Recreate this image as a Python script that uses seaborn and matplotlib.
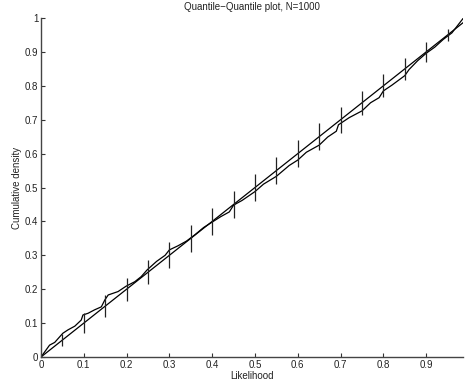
import numpy as np
import pandas as pd
import matplotlib
matplotlib.use("Agg")
import matplotlib.pyplot as plt
import seaborn as sns

# ---- data ----
curve_x = [0.000, 0.012, 0.020, 0.032, 0.051, 0.063, 0.079, 0.094, 0.098, 0.110,
           0.125, 0.141, 0.149, 0.157, 0.180, 0.199, 0.219, 0.234, 0.248, 0.270,
           0.290, 0.300, 0.320, 0.340, 0.360, 0.380, 0.400, 0.420, 0.440, 0.450,
           0.470, 0.500, 0.520, 0.550, 0.580, 0.600, 0.620, 0.650, 0.670, 0.690,
           0.695, 0.720, 0.750, 0.770, 0.790, 0.800, 0.820, 0.850, 0.860, 0.880,
           0.900, 0.920, 0.940, 0.960, 0.987]
curve_y = [0.000, 0.021, 0.035, 0.043, 0.070, 0.080, 0.091, 0.109, 0.124, 0.129,
           0.139, 0.148, 0.168, 0.183, 0.193, 0.209, 0.222, 0.237, 0.257, 0.282,
           0.300, 0.316, 0.328, 0.342, 0.361, 0.382, 0.398, 0.414, 0.428, 0.448,
           0.462, 0.488, 0.510, 0.533, 0.565, 0.581, 0.604, 0.625, 0.649, 0.666,
           0.685, 0.706, 0.726, 0.750, 0.765, 0.785, 0.802, 0.830, 0.848, 0.874,
           0.896, 0.914, 0.937, 0.956, 1.000]

diag_x = [0.0, 1.0]
diag_y = [0.0, 1.0]

ebar_x = [0.05, 0.10, 0.15, 0.20, 0.25, 0.30, 0.35, 0.40, 0.45, 0.50,
          0.55, 0.60, 0.65, 0.70, 0.75, 0.80, 0.85, 0.90, 0.95]
ebar_half = [0.019, 0.029, 0.032, 0.034, 0.036, 0.038, 0.039, 0.040, 0.041, 0.041,
             0.041, 0.040, 0.039, 0.038, 0.036, 0.034, 0.033, 0.030, 0.019]

x_ticks = [0, 0.1, 0.2, 0.3, 0.4, 0.5, 0.6, 0.7, 0.8, 0.9]
x_ticklabels = ["0", "0.1", "0.2", "0.3", "0.4", "0.5", "0.6", "0.7", "0.8", "0.9"]
y_ticks = [0, 0.1, 0.2, 0.3, 0.4, 0.5, 0.6, 0.7, 0.8, 0.9, 1.0]
y_ticklabels = ["0", "0.1", "0.2", "0.3", "0.4", "0.5", "0.6", "0.7", "0.8", "0.9", "1"]

title = "Quantile\u2212Quantile plot, N=1000"
xlabel = "Likelihood"
ylabel = "Cumulative density"

# ---- plotting ----
sns.set_style("ticks")
plt.rcParams["font.family"] = ["Liberation Sans", "DejaVu Sans"]
plt.rcParams["xtick.direction"] = "in"
plt.rcParams["ytick.direction"] = "in"

fig = plt.figure(figsize=(4.65, 3.87), dpi=100)
ax = fig.add_axes([41 / 465, 30 / 387, 422 / 465, 339 / 387])

df_curve = pd.DataFrame({"x": curve_x, "y": curve_y})
df_diag = pd.DataFrame({"x": diag_x, "y": diag_y})

sns.lineplot(data=df_diag, x="x", y="y", ax=ax, color="black", lw=0.9,
             sort=False, estimator=None)
sns.lineplot(data=df_curve, x="x", y="y", ax=ax, color="black", lw=0.9,
             sort=False, estimator=None)

eb = np.asarray(ebar_x)
eh = np.asarray(ebar_half)
ax.vlines(eb, eb - eh, eb + eh, color="#222222", lw=0.9)

ax.set_xlim(0, 0.986)
ax.set_ylim(0, 1)
ax.set_xticks(x_ticks)
ax.set_xticklabels(x_ticklabels)
ax.set_yticks(y_ticks)
ax.set_yticklabels(y_ticklabels)
ax.tick_params(axis="both", labelsize=7, length=3, width=0.8, pad=2,
               colors="#333333", labelcolor="#222222")

for s in ["top", "right"]:
    ax.spines[s].set_visible(False)
for s in ["left", "bottom"]:
    ax.spines[s].set_color("#444444")
    ax.spines[s].set_linewidth(1.0)

ax.set_title(title, fontsize=7, pad=6, color="#222222")
ax.set_xlabel(xlabel, fontsize=7, labelpad=1, color="#222222")
ax.set_ylabel(ylabel, fontsize=7, labelpad=2, color="#222222")

fig.savefig("out.png", dpi=100)
